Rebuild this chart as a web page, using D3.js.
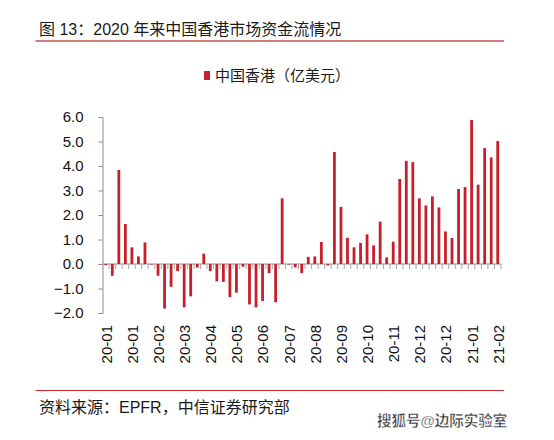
<!DOCTYPE html>
<html>
<head>
<meta charset="utf-8">
<script src="https://cdn.jsdelivr.net/npm/d3@7"></script>
<style>
  html, body { margin: 0; padding: 0; background: #fff; }
  svg { display: block; }
  text { font-family: "Liberation Sans", Arial, "Noto Sans CJK SC", sans-serif; }
</style>
</head>
<body>
<svg id="chart" width="554" height="440"></svg>
<script>
// ---- data ----
const titleText = "图 13：2020 年来中国香港市场资金流情况";
const sourceText = "资料来源：EPFR，中信证券研究部";
const watermarkText = "搜狐号@边际实验室";
const seriesName = "中国香港（亿美元）";

const weeks = [
  "2020-01-01","2020-01-08","2020-01-15","2020-01-22","2020-01-29",
  "2020-02-05","2020-02-12","2020-02-19","2020-02-26",
  "2020-03-04","2020-03-11","2020-03-18","2020-03-25",
  "2020-04-01","2020-04-08","2020-04-15","2020-04-22","2020-04-29",
  "2020-05-06","2020-05-13","2020-05-20","2020-05-27",
  "2020-06-03","2020-06-10","2020-06-17","2020-06-24",
  "2020-07-01","2020-07-08","2020-07-15","2020-07-22","2020-07-29",
  "2020-08-05","2020-08-12","2020-08-19","2020-08-26",
  "2020-09-02","2020-09-09","2020-09-16","2020-09-23","2020-09-30",
  "2020-10-07","2020-10-14","2020-10-21","2020-10-28",
  "2020-11-04","2020-11-11","2020-11-18","2020-11-25",
  "2020-12-02","2020-12-09","2020-12-16","2020-12-23","2020-12-30",
  "2021-01-06","2021-01-13","2021-01-20","2021-01-27",
  "2021-02-03","2021-02-10","2021-02-17","2021-02-24"
];

const flows = [
  -0.05, -0.48, 3.84, 1.63, 0.68, 0.31, 0.88, 0.00, -0.48, -1.82,
  -0.93, -0.29, -1.77, -1.32, -0.15, 0.42, -0.29, -0.71, -0.73, -1.35,
  -1.17, -0.11, -1.65, -1.77, -1.51, -0.37, -1.56, 2.68, 0.00, -0.14,
  -0.37, 0.29, 0.31, 0.90, -0.06, 4.57, 2.33, 1.07, 0.68, 0.86,
  1.21, 0.76, 1.73, 0.27, 0.91, 3.47, 4.21, 4.16, 2.68, 2.39,
  2.76, 2.31, 1.33, 1.06, 3.06, 3.14, 5.88, 3.24, 4.73, 4.35,
  5.02
];

const yTicks = [-2, -1, 0, 1, 2, 3, 4, 5, 6];
const labelEvery = 4;

// ---- layout ----
const svg = d3.select("#chart");
const plot = { left: 102.5, right: 501, top: 117, bottom: 313 };
const red = "#C8202B";
const axisGray = "#8c8c8c";

const x = d3.scaleBand().domain(weeks).range([plot.left, plot.right]).paddingInner(0).paddingOuter(0);
const y = d3.scaleLinear().domain([-2, 6]).range([plot.bottom, plot.top]);
const barW = 2.8;

// title
svg.append("text").attr("x", 39).attr("y", 35)
  .attr("font-size", 16).attr("fill", "#1a1a1a").text(titleText);
svg.append("line").attr("x1", 35.5).attr("x2", 504).attr("y1", 41).attr("y2", 41)
  .attr("stroke", "#C0504D").attr("stroke-width", 1.6);

// legend
const lg = svg.append("g").attr("transform", "translate(204,76)");
lg.append("rect").attr("x", 0).attr("y", -5).attr("width", 6).attr("height", 9).attr("fill", red);
lg.append("text").attr("x", 11).attr("y", 5).attr("font-size", 15).attr("fill", "#1a1a1a").text(seriesName);

// y axis
const yAxis = d3.axisLeft(y).tickValues(yTicks).tickFormat(d3.format(".1f")).tickSizeOuter(0).tickSize(4).tickPadding(15);
const gy = svg.append("g").attr("transform", `translate(${plot.left},0)`).call(yAxis);
gy.select(".domain").attr("stroke", axisGray);
gy.selectAll(".tick line").attr("stroke", axisGray);
gy.selectAll(".tick text").attr("font-size", 15).attr("fill", "#111")
  .attr("font-family", "'Liberation Sans', Arial, sans-serif");

// x axis (zero line) with ticks at band boundaries
const gx = svg.append("g").attr("class", "xaxis");
gx.append("line").attr("x1", plot.left).attr("x2", plot.right).attr("y1", y(0)).attr("y2", y(0))
  .attr("stroke", axisGray).attr("stroke-width", 1);
const boundaries = weeks.map(w => x(w)).concat([plot.right]);
gx.selectAll("line.tk").data(boundaries.slice(1)).join("line").attr("class", "tk")
  .attr("x1", d => d).attr("x2", d => d).attr("y1", y(0)).attr("y2", y(0) + 5)
  .attr("stroke", "#a6a6a6").attr("stroke-width", 1);

// bars
svg.append("g").selectAll("rect").data(flows).join("rect")
  .attr("x", (d, i) => x(weeks[i]) + x.bandwidth() / 2 - barW / 2)
  .attr("width", barW)
  .attr("y", d => y(Math.max(0, d)))
  .attr("height", d => Math.max(0.6, Math.abs(y(d) - y(0))))
  .attr("fill", red);

// x labels
const fmt = d3.timeFormat("%y-%m");
const parse = d3.timeParse("%Y-%m-%d");
const labelWeeks = weeks.filter((w, i) => i % labelEvery === 0);
svg.append("g").selectAll("text").data(labelWeeks).join("text")
  .attr("transform", d => `translate(${x(d) + x.bandwidth() / 2 + 0.5},325) rotate(-90)`)
  .attr("text-anchor", "end").attr("dy", "0.36em")
  .attr("font-size", 15).attr("fill", "#111")
  .text(d => fmt(parse(d)));

// footer
svg.append("line").attr("x1", 35.5).attr("x2", 504).attr("y1", 390.5).attr("y2", 390.5)
  .attr("stroke", "#D9272E").attr("stroke-width", 1.2);
svg.append("text").attr("x", 39).attr("y", 413)
  .attr("font-size", 16).attr("fill", "#1a1a1a").text(sourceText);
svg.append("text").attr("x", 377).attr("y", 426)
  .attr("font-size", 14.5).attr("fill", "#333").attr("stroke", "#fff").attr("stroke-width", 0.4)
  .attr("font-weight", "bold").text(watermarkText);
</script>
</body>
</html>
